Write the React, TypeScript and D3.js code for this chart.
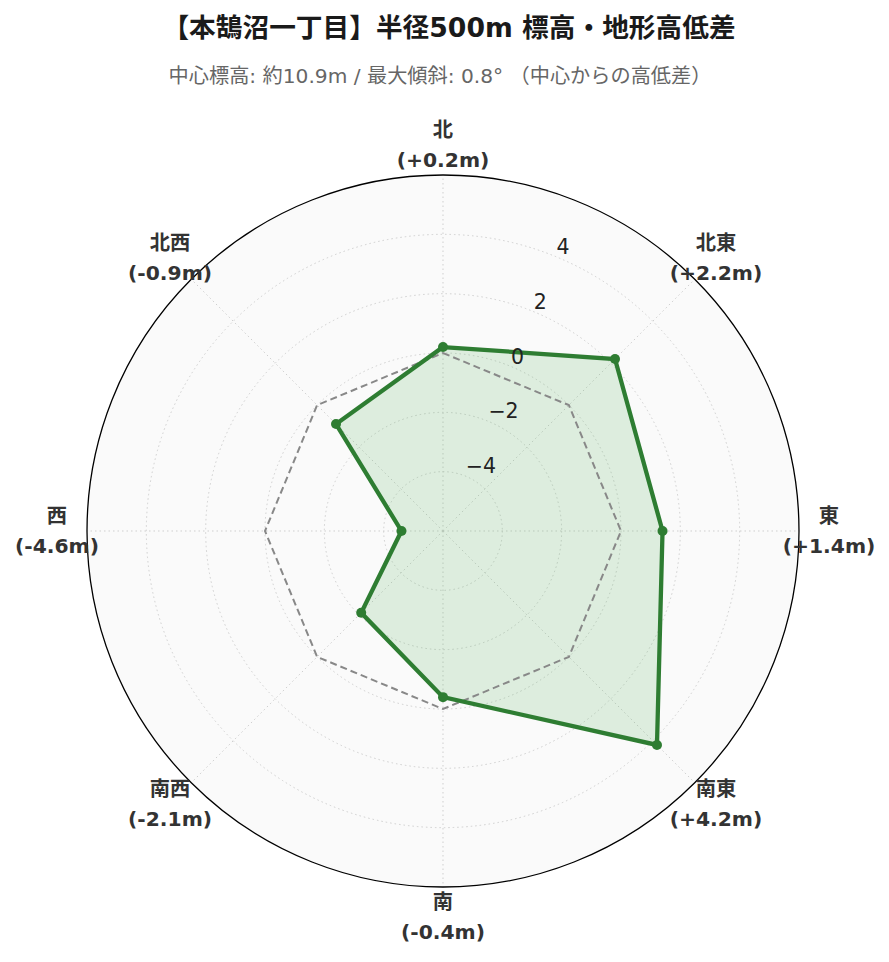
import React from "react";
import * as d3 from "d3";

const directions = ["北", "北東", "東", "南東", "南", "南西", "西", "北西"];
const values = [0.2, 2.2, 1.4, 4.2, -0.4, -2.1, -4.6, -0.9];
const radialTicks = [-4, -2, 0, 2, 4];
const radialDomain = [-6, 6];
const titleText = "【本鵠沼一丁目】半径500m 標高・地形高低差";
const subtitleText = "中心標高: 約10.9m / 最大傾斜: 0.8° （中心からの高低差）";

const W = 889;
const H = 962;
const cx = 443;
const cy = 531;
const R = 356;
const FONT = "'DejaVu Sans', 'Noto Sans CJK JP', sans-serif";

export default function App() {
  const r = d3.scaleLinear().domain(radialDomain).range([0, R]);
  const angle = d3
    .scaleLinear()
    .domain([0, directions.length])
    .range([0, 2 * Math.PI]);

  const line = d3
    .lineRadial<number>()
    .angle((_, i) => angle(i))
    .radius((d) => r(d))
    .curve(d3.curveLinearClosed);

  const pt = (rad: number, a: number) => [cx + rad * Math.sin(a), cy - rad * Math.cos(a)];

  const fmt = (v: number) => `(${v >= 0 ? "+" : "-"}${Math.abs(v).toFixed(1)}m)`;
  const tickFmt = (v: number) => (v < 0 ? "\u2212" + Math.abs(v) : String(v));
  const labelAngle = Math.PI / 8;

  return (
    <svg
      width={W}
      height={H}
      style={{ position: "absolute", left: 0, top: 0, background: "#fff" }}
      fontFamily={FONT}
    >
      <text x={cx + 6} y={27} textAnchor="middle" dominantBaseline="central" fontSize={26.7} fontWeight="bold" fill="#1a1a1a">
        {titleText}
      </text>
      <text x={cx - 3} y={76} textAnchor="middle" dominantBaseline="central" fontSize={20.2} fill="#666">
        {subtitleText}
      </text>

      <circle cx={cx} cy={cy} r={R} fill="#fafafa" />
      {radialTicks.map((t) => (
        <circle
          key={"g" + t}
          cx={cx}
          cy={cy}
          r={r(t)}
          fill="none"
          stroke="#cfcfcf"
          strokeWidth={1}
          strokeDasharray="1.5,3"
        />
      ))}
      {directions.map((_, i) => {
        const [x2, y2] = pt(R, angle(i));
        return (
          <line
            key={"s" + i}
            x1={cx}
            y1={cy}
            x2={x2}
            y2={y2}
            stroke="#cfcfcf"
            strokeWidth={1}
            strokeDasharray="1.5,3"
          />
        );
      })}

      <g transform={`translate(${cx},${cy})`}>
        <path d={line(values) || ""} fill="#4caf50" fillOpacity={0.16} stroke="none" />
        <path
          d={line(values.map(() => 0)) || ""}
          fill="none"
          stroke="#888"
          strokeWidth={2}
          strokeDasharray="7,4"
        />
        <path d={line(values) || ""} fill="none" stroke="#2e7d32" strokeWidth={4.3} strokeLinejoin="miter" />
      </g>
      {values.map((v, i) => {
        const [x, y] = pt(r(v), angle(i));
        return <circle key={"m" + i} cx={x} cy={y} r={5} fill="#2e7d32" />;
      })}

      {radialTicks.map((t) => {
        const [x, y] = pt(r(t), labelAngle);
        return (
          <text key={"t" + t} x={x} y={y - 3} fontSize={20.5} fill="#222">
            {tickFmt(t)}
          </text>
        );
      })}

      <circle cx={cx} cy={cy} r={R} fill="none" stroke="#000" strokeWidth={1.3} />

      {directions.map((d, i) => {
        const [x, y] = pt(386, angle(i));
        return (
          <g key={"l" + i} fontWeight="bold" fill="#333" fontSize={20.3} textAnchor="middle">
            <text x={x} y={y - 15} dominantBaseline="central">
              {d}
            </text>
            <text x={x} y={y + 15} dominantBaseline="central">
              {fmt(values[i])}
            </text>
          </g>
        );
      })}
    </svg>
  );
}
